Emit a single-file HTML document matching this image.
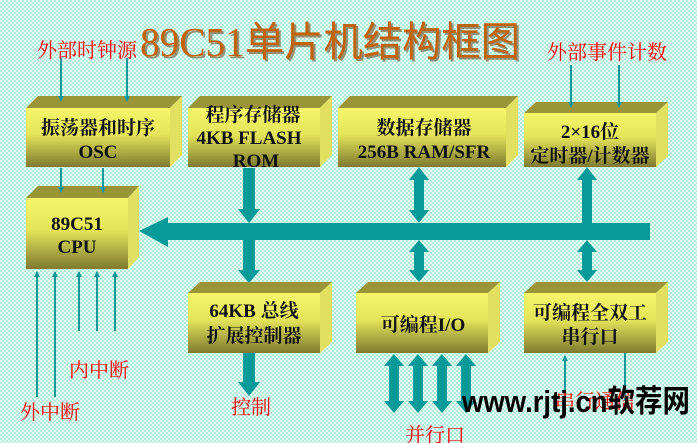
<!DOCTYPE html>
<html><head><meta charset="utf-8"><style>
html,body{margin:0;padding:0;width:697px;height:443px;overflow:hidden;background:#c4f1e4}
svg{display:block}
.bx{font-family:"Liberation Serif","Noto Serif CJK SC",serif;font-weight:bold;font-size:19px;fill:#111;text-anchor:middle}
.rd{font-family:"Liberation Serif","Noto Serif CJK SC",serif;font-size:20px;fill:#ff0000}
</style></head><body>
<svg width="697" height="443" viewBox="0 0 697 443" xmlns="http://www.w3.org/2000/svg">
<defs>
<pattern id="pt" width="4" height="4" patternUnits="userSpaceOnUse"><rect width="4" height="4" fill="#b4ecdc"/><rect width="2" height="2" fill="#e6faf4"/><rect x="2" y="2" width="2" height="2" fill="#e6faf4"/></pattern>
<linearGradient id="fg" x1="0" y1="0" x2="0" y2="1"><stop offset="0" stop-color="#f6f66a"/><stop offset="0.45" stop-color="#e4e45a"/><stop offset="1" stop-color="#7e7a30"/></linearGradient>
<marker id="ah" markerWidth="6" markerHeight="6" refX="5" refY="3" orient="auto" markerUnits="userSpaceOnUse"><path d="M0,0 L6,3 L0,6 z" fill="#10989a"/></marker>
</defs>
<rect width="697" height="443" fill="url(#pt)"/>

<text x="140" y="56" font-family="Liberation Serif,'Noto Sans CJK SC',serif" font-size="41" fill="#5a3008" opacity="0.5" transform="translate(2,2)" textLength="380" lengthAdjust="spacingAndGlyphs">89C51单片机结构框图</text>
<text x="140" y="56" font-family="Liberation Serif,'Noto Sans CJK SC',serif" font-size="41" fill="#c0640c" textLength="380" lengthAdjust="spacingAndGlyphs">89C51单片机结构框图</text>

<g id="boxes">
<polygon points="26,108 38,96 182,96 170,108" fill="#9a9638"/><polygon points="170,108 182,96 182,155 170,167" fill="#e2e060"/><rect x="26" y="108" width="144" height="59" fill="url(#fg)"/>
<polygon points="188,108 200,96 332,96 320,108" fill="#9a9638"/><polygon points="320,108 332,96 332,155 320,167" fill="#e2e060"/><rect x="188" y="108" width="132" height="59" fill="url(#fg)"/>
<polygon points="338,108 350,96 518,96 506,108" fill="#9a9638"/><polygon points="506,108 518,96 518,155 506,167" fill="#e2e060"/><rect x="338" y="108" width="168" height="59" fill="url(#fg)"/>
<polygon points="524,113 536,102 668,102 656,113" fill="#9a9638"/><polygon points="656,113 668,102 668,156 656,167" fill="#e2e060"/><rect x="524" y="113" width="132" height="54" fill="url(#fg)"/>
<polygon points="26,198 38,186 139,186 128,198" fill="#9a9638"/><polygon points="128,198 139,186 139,257 128,269" fill="#e2e060"/><rect x="26" y="198" width="102" height="71" fill="url(#fg)"/>
<polygon points="188,293 200,282 332,282 320,293" fill="#9a9638"/><polygon points="320,293 332,282 332,342 320,353" fill="#e2e060"/><rect x="188" y="293" width="132" height="60" fill="url(#fg)"/>
<polygon points="356,293 368,282 500,282 488,293" fill="#9a9638"/><polygon points="488,293 500,282 500,342 488,353" fill="#e2e060"/><rect x="356" y="293" width="132" height="60" fill="url(#fg)"/>
<polygon points="524,293 536,282 668,282 656,293" fill="#9a9638"/><polygon points="656,293 668,282 668,342 656,353" fill="#e2e060"/><rect x="524" y="293" width="132" height="60" fill="url(#fg)"/>
</g>

<text class="bx" x="98" y="134">振荡器和时序</text><text class="bx" x="98" y="158">OSC</text>
<text class="bx" x="253" y="121">程序存储器</text><text class="bx" x="249" y="144">4KB FLASH</text><text class="bx" x="256" y="167">ROM</text>
<text class="bx" x="424" y="134">数据存储器</text><text class="bx" x="424" y="158">256B RAM/SFR</text>
<text class="bx" x="590" y="138">2×16位</text><text class="bx" x="590" y="162">定时器/计数器</text>
<text class="bx" x="77" y="230">89C51</text><text class="bx" x="77" y="253">CPU</text>
<text class="bx" x="254" y="317">64KB 总线</text><text class="bx" x="254" y="342">扩展控制器</text>
<text class="bx" x="423" y="331">可编程I/O</text>
<text class="bx" x="590" y="319">可编程全双工</text><text class="bx" x="590" y="343">串行口</text>

<g fill="#069a98">
<polygon points="139,231 168,217 168,223 650,223 650,240 168,240 168,247"/>
<polygon points="243,168 255,168 255,209 260,209 249,223 238,209 243,209"/>
<polygon points="243,240 255,240 255,270 260,270 249,283 238,270 243,270"/>
<polygon points="243,353 255,353 255,382 260,382 249,396 238,382 243,382"/>
<polygon points="419,167 429,180 424,180 424,210 429,210 419,223 409,210 414,210 414,180 409,180"/>
<polygon points="419,240 429,252 424,252 424,270 429,270 419,282 409,270 414,270 414,252 409,252"/>
<polygon points="587,167 597,180 592,180 592,223 582,223 582,180 577,180"/>
<polygon points="587,240 597,252 592,252 592,270 597,270 587,282 577,270 582,270 582,252 577,252"/>
<polygon points="394,354 404,366 399,366 399,401 404,401 394,413 384,401 389,401 389,366 384,366"/>
<polygon points="418,354 428,366 423,366 423,401 428,401 418,413 408,401 413,401 413,366 408,366"/>
<polygon points="442,354 452,366 447,366 447,401 452,401 442,413 432,401 437,401 437,366 432,366"/>
<polygon points="466,354 476,366 471,366 471,401 476,401 466,413 456,401 461,401 461,366 456,366"/>
</g>

<g stroke="#10989a" stroke-width="2" fill="none" marker-end="url(#ah)">
<line x1="61" y1="58" x2="61" y2="101"/><line x1="127" y1="58" x2="127" y2="101"/>
<line x1="61" y1="168" x2="61" y2="192"/><line x1="103" y1="168" x2="103" y2="192"/>
<line x1="37" y1="397" x2="37" y2="272"/><line x1="55" y1="397" x2="55" y2="272"/>
<line x1="79" y1="331" x2="79" y2="272"/><line x1="97" y1="331" x2="97" y2="272"/><line x1="115" y1="331" x2="115" y2="272"/>
<line x1="571" y1="65" x2="571" y2="107"/><line x1="619" y1="65" x2="619" y2="107"/>
<line x1="565" y1="398" x2="565" y2="356"/>
</g>
<line x1="625" y1="353" x2="625" y2="400" stroke="#10989a" stroke-width="2"/>

<text class="rd" x="37" y="57">外部时钟源</text>
<text class="rd" x="547" y="59">外部事件计数</text>
<text class="rd" x="69" y="377">内中断</text>
<text class="rd" x="20" y="419">外中断</text>
<text class="rd" x="231" y="414">控制</text>
<text class="rd" x="405" y="442">并行口</text>
<text class="rd" x="555" y="408">串行通信</text>

<text x="462" y="412" font-family="Liberation Sans,'Noto Sans CJK SC',sans-serif" font-size="31" font-weight="bold" fill="#000" textLength="228" lengthAdjust="spacingAndGlyphs">www.rjtj.cn软荐网</text>
</svg>
</body></html>
